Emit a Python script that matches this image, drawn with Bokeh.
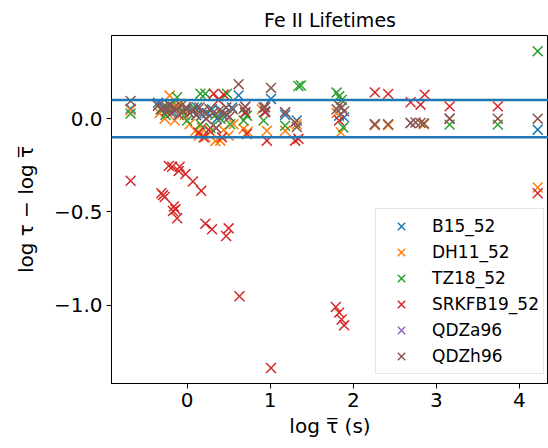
from bokeh.plotting import figure
from bokeh.embed import file_html
from bokeh.resources import INLINE
from bokeh.models import Span, FixedTicker, CustomJSTickFormatter

# ---------------- data ----------------
b15_x = [-0.68, -0.35, -0.30, -0.24, -0.18, -0.12, -0.06, 0.0, 0.06, 0.12, 0.18, 0.24, 0.30, 0.36,
         0.42, 0.48, 0.54, 0.62, 0.70, 0.94, 1.01, 1.18, 1.32, 1.83, 1.89, 4.22]
b15_y = [0.054, 0.085, 0.05, 0.06, 0.04, 0.07, 0.03, 0.05, 0.04, 0.06, 0.02, 0.03, 0.05, 0.0,
         0.04, 0.02, 0.06, 0.125, 0.03, 0.04, 0.106, 0.02, -0.01, 0.016, 0.007, -0.059]

dh11_x = [-0.68, -0.33, -0.27, -0.21, -0.19, -0.15, -0.09, -0.03, 0.03, 0.10, 0.14, 0.18, 0.22, 0.28,
          0.34, 0.40, 0.44, 0.50, 0.56, 0.68, 0.73, 0.90, 0.96, 1.18, 1.32, 1.80, 1.85, 2.26, 2.42,
          2.85, 4.22]
dh11_y = [0.045, 0.03, 0.0, 0.124, 0.06, -0.01, 0.08, 0.02, -0.03, -0.065, -0.09, -0.05, -0.1, -0.07,
          -0.12, -0.118, -0.06, -0.09, -0.03, -0.055, -0.07, 0.05, -0.065, -0.065, -0.03, 0.03, -0.073,
          -0.035, -0.035, -0.03, -0.369]

tz18_x = [-0.68, -0.32, -0.26, -0.20, -0.12, -0.06, 0.0, 0.08, 0.16, 0.16, 0.22, 0.28, 0.34, 0.40,
          0.48, 0.52, 0.68, 0.72, 0.92, 1.18, 1.34, 1.37, 1.80, 1.83, 1.86, 1.88, 3.16, 3.74, 4.22]
tz18_y = [0.027, 0.05, 0.02, 0.07, 0.115, 0.04, -0.01, 0.06, 0.134, -0.03, 0.134, -0.05, 0.02, 0.0,
          0.134, -0.03, -0.01, 0.016, -0.01, -0.038, 0.175, 0.178, 0.14, 0.12, 0.10, -0.047, -0.032,
          -0.032, 0.362]

srkfb19_x = [-0.68, -0.31, -0.29, -0.27, -0.22, -0.18, -0.17, -0.16, -0.14, -0.12, -0.10, -0.09, -0.02,
             0.07, 0.17, 0.22, 0.30, 0.47, 0.50, 0.63, 1.01, 1.79, 1.83, 1.86, 1.89,
             0.14, 0.20, 0.26, 0.32, 0.38, 0.42, 0.44, 0.70, 0.72, 0.94, 0.96, 1.30, 1.34, 1.83, 2.26,
             2.42, 2.69, 2.81, 2.86, 3.16, 3.74, 4.22]
srkfb19_y = [-0.333, -0.40, -0.41, -0.42, -0.253, -0.258, -0.495, -0.471, -0.486, -0.534, -0.28, -0.258,
             -0.297, -0.337, -0.387, -0.563, -0.593, -0.629, -0.588, -0.952, -1.337, -1.01, -1.04, -1.077,
             -1.108,
             -0.075, -0.1, -0.06, 0.134, 0.1, -0.1, 0.13, 0.034, -0.082, 0.034, -0.118, -0.118, -0.108,
             -0.01, 0.141, 0.133, 0.088, 0.075, 0.129, 0.066, 0.066, -0.40]

qdza96_x = [-0.35, -0.25, -0.13, -0.01, 0.11, 0.23, 0.35, 0.47, 0.70, 1.18, 1.86, 2.26, 2.69, 3.16]
qdza96_y = [0.07, 0.04, 0.05, 0.06, 0.02, 0.0, -0.05, 0.06, 0.064, 0.034, 0.06, -0.03, -0.023, 0.0]

qdzh96_x = [-0.68, -0.35, -0.31, -0.28, -0.25, -0.22, -0.19, -0.16, -0.13, -0.10, -0.07, -0.04, -0.01,
            0.03, 0.07, 0.11, 0.15, 0.19, 0.23, 0.27, 0.31, 0.35, 0.39, 0.43, 0.47, 0.51, 0.55, 0.62,
            0.68, 0.70, 0.92, 0.94, 1.01, 1.18, 1.30, 1.32, 1.80, 1.83, 1.86, 1.89, 2.26, 2.42, 2.69,
            2.75, 2.81, 2.85, 3.16, 3.74, 4.22]
qdzh96_y = [0.095, 0.07, 0.05, 0.065, 0.04, 0.075, 0.03, 0.06, 0.05, 0.02, 0.07, 0.04, 0.06,
            0.03, 0.05, 0.02, 0.06, 0.04, 0.0, 0.05, 0.03, -0.05, 0.045, 0.02, 0.06, 0.01, 0.05, 0.185,
            0.054, 0.064, 0.06, 0.061, 0.165, 0.034, -0.02, -0.045, 0.05, 0.07, 0.06, 0.04, -0.03, -0.03,
            -0.023, -0.02, -0.023, -0.025, 0.0, 0.0, 0.0]

series_names = ["B15_52", "DH11_52", "TZ18_52", "SRKFB19_52", "QDZa96", "QDZh96"]
series_x = [b15_x, dh11_x, tz18_x, srkfb19_x, qdza96_x, qdzh96_x]
series_y = [b15_y, dh11_y, tz18_y, srkfb19_y, qdza96_y, qdzh96_y]
colors = ["#1f77b4", "#ff7f0e", "#2ca02c", "#d62728", "#9467bd", "#8c564b"]

hline_levels = [0.1, -0.1]
x_ticks = [0, 1, 2, 3, 4]
y_ticks = [0.0, -0.5, -1.0]

FONT = "DejaVu Sans"

p = figure(width=548, height=448, x_range=(-0.91, 4.35), y_range=(-1.42, 0.446),
           output_backend="svg", toolbar_location=None, title="Fe II Lifetimes",
           min_border_left=111, min_border_right=0, min_border_top=35, min_border_bottom=65)

for name, xs, ys, c in zip(series_names, series_x, series_y, colors):
    p.scatter(xs, ys, marker="x", size=14, line_color=c, line_width=1.5, legend_label=name)

for lvl in hline_levels:
    p.add_layout(Span(location=lvl, dimension="width", line_color="#1f77b4", line_width=2.5))

p.title.text_font = FONT
p.title.text_font_size = "19px"
p.title.text_font_style = "normal"
p.title.align = "center"
p.title.text_color = "black"

p.xgrid.visible = False
p.ygrid.visible = False
p.outline_line_color = "black"
p.outline_line_width = 1

for ax in (p.xaxis, p.yaxis):
    ax.axis_line_color = "black"
    ax.major_tick_line_color = "black"
    ax.major_tick_out = 5
    ax.major_tick_in = 0
    ax.minor_tick_line_color = None
    ax.major_label_text_font = FONT
    ax.major_label_text_font_size = "20px"
    ax.major_label_text_color = "black"
    ax.axis_label_text_font = FONT
    ax.axis_label_text_font_size = "20px"
    ax.axis_label_text_font_style = "normal"
    ax.axis_label_text_color = "black"

p.xaxis.ticker = FixedTicker(ticks=x_ticks)
p.yaxis.ticker = FixedTicker(ticks=y_ticks)
p.yaxis.formatter = CustomJSTickFormatter(code="return tick.toFixed(1).replace('-', '\u2212');")
p.xaxis.axis_label = "log \u03c4\u0305 (s)"
p.yaxis.axis_label = "log \u03c4 \u2212 log \u03c4\u0305"
p.xaxis.major_label_standoff = 4
p.yaxis.major_label_standoff = 4
p.xaxis.axis_label_standoff = 4
p.yaxis.axis_label_standoff = 13

lg = p.legend[0]
lg.location = (264, 9)
lg.label_text_font = FONT
lg.label_text_font_size = "17px"
lg.label_text_color = "black"
lg.glyph_width = 42
lg.glyph_height = 26
lg.label_height = 26
lg.spacing = 0
lg.padding = 4
lg.label_standoff = 10
lg.border_line_color = "#cccccc"
lg.border_line_width = 1
lg.background_fill_alpha = 0.8

open("out.html", "w").write(file_html(p, INLINE))
